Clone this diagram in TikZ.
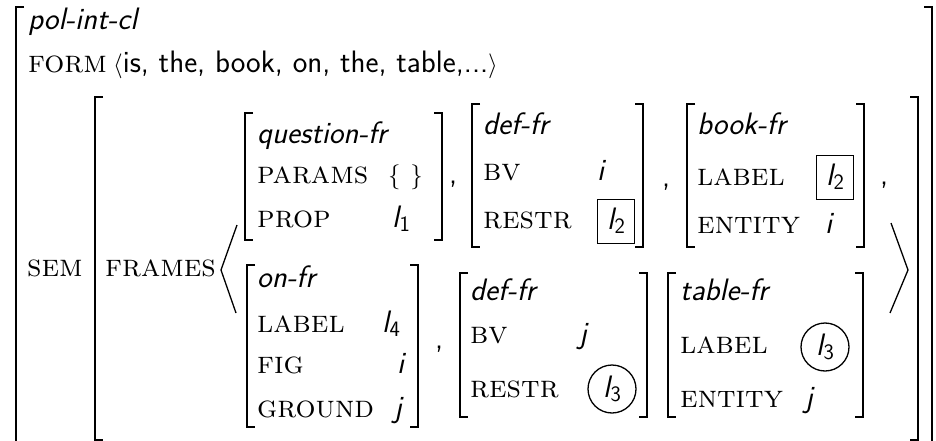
\documentclass[tikz,border=0pt]{standalone}
\newcommand{\fs}{\fontsize{31}{36}\selectfont}
\newcommand{\fsc}{\fontsize{31.5}{36}\selectfont}
\newcommand{\lsub}[1]{{\sffamily\itshape l}\kern0.5pt\raisebox{-0.3ex}{\fontsize{22}{22}\selectfont\sffamily #1}}
\tikzset{
  txt/.style={anchor=base west, inner sep=0pt, font=\fs},
  ty/.style={txt, font=\fs\sffamily\itshape},
  ft/.style={txt, font=\fsc\scshape},
  vl/.style={txt, font=\fs\sffamily},
  brk/.style={line width=1.7pt},
  ang/.style={line width=1.3pt},
  bx/.style={draw, line width=0.8pt, inner sep=0pt, minimum width=37pt, minimum height=44pt},
  ci/.style={draw, circle, line width=1.3pt, inner sep=0pt, minimum size=48pt},
}
\newcommand{\lbr}[3]{\draw[brk] (#1+8,#2) -- (#1,#2) -- (#1,#3) -- (#1+8,#3);}
\newcommand{\rbr}[3]{\draw[brk] (#1-8,#2) -- (#1,#2) -- (#1,#3) -- (#1-8,#3);}
\begin{document}
\begin{tikzpicture}[x=1pt,y=-1pt]
\useasboundingbox (0,0) rectangle (936,441);
% outer
\lbr{16}{7}{460}
\rbr{932}{7}{460}
\node[ty] (t0) at (28,30) {pol-int-cl};
\node[ft] (form) at (28,73) {form};
\node[vl] (formv) at (113,73) {$\langle$is, the, book, on, the, table,...$\rangle$};
% SEM
\node[ft] (sem) at (27,276) {sem};
\lbr{95}{97}{440}
\rbr{918}{97}{440}
\node[ft] (frames) at (105,276) {frames};
\draw[ang] (237,225) -- (221,270) -- (236,313);
\draw[ang] (891,223) -- (908,270) -- (890,313);
% question-fr
\lbr{245}{113}{240}\rbr{442}{113}{240}
\node[ty] (q0) at (257,143) {question-fr};
\node[ft] (q1) at (257,183) {params};
\node[vl] (q1v) at (388,183) {$\{\ \}$};
\node[ft] (q2) at (257,227) {prop};
\node[vl] (q2v) at (392,227) {\lsub{1}};
\node[vl] (c1) at (449,183) {,};
% def-fr 1
\lbr{472}{104}{247}\rbr{643}{104}{247}
\node[ty] (d0) at (483,135) {def-fr};
\node[ft] (d1) at (483,180) {bv};
\node[vl] (d1v) at (597,180) {\itshape i};
\node[ft] (d2) at (483,228) {restr};
\node[bx] (d2v) at (616,221) {\fs\lsub{2}};
\node[vl] (c2) at (662,186) {,};
% book-fr
\lbr{687}{104}{247}\rbr{864}{104}{247}
\node[ty] (b0) at (697,135) {book-fr};
\node[ft] (b1) at (697,185) {label};
\node[bx] (b1v) at (835,177) {\fs\lsub{2}};
\node[ft] (b2) at (697,233) {entity};
\node[vl] (b2v) at (825,233) {\itshape i};
\node[vl] (c3) at (880,184) {,};
% on-fr
\lbr{247}{265}{427}\rbr{418}{265}{427}
\node[ty] (o0) at (257,287) {on-fr};
\node[ft] (o1) at (257,332) {label};
\node[vl] (o1v) at (382,332) {\lsub{4}};
\node[ft] (o2) at (257,373) {fig};
\node[vl] (o2v) at (397,373) {\itshape i};
\node[ft] (o3) at (257,417) {ground};
\node[vl] (o3v) at (394,417) {\itshape j};
\node[vl] (c4) at (435,348) {,};
% def-fr 2
\lbr{460}{273}{417}\rbr{647}{273}{417}
\node[ty] (e0) at (470,300) {def-fr};
\node[ft] (e1) at (470,343) {bv};
\node[vl] (e1v) at (579,343) {\itshape j};
\node[ft] (e2) at (470,397) {restr};
\node[ci] (e2v) at (612,389) {\fs\lsub{3}};
% table-fr
\lbr{668}{273}{417}\rbr{863}{273}{417}
\node[ty] (f0) at (680,300) {table-fr};
\node[ft] (f1) at (680,353) {label};
\node[ci] (f1v) at (825,347) {\fs\lsub{3}};
\node[ft] (f2) at (680,407) {entity};
\node[vl] (f2v) at (805,407) {\itshape j};
\end{tikzpicture}
\end{document}
